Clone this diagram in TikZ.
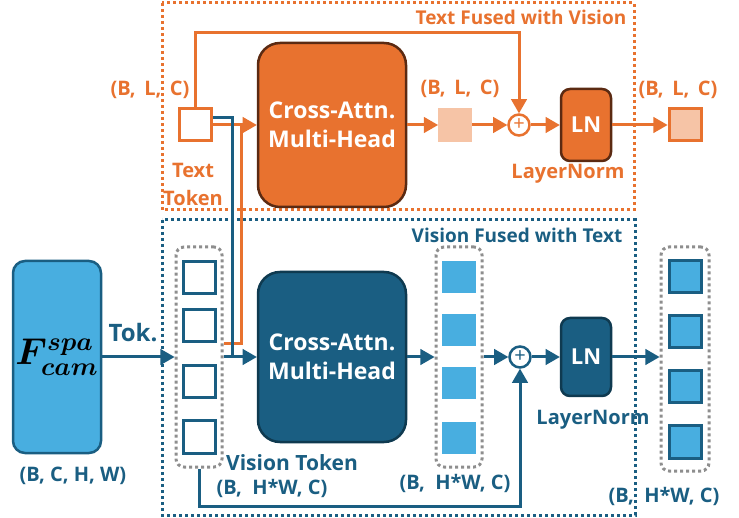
\documentclass[tikz,border=0pt]{standalone}
\usepackage{amsmath}
\usepackage{graphicx}
\usepackage{fontspec}
\setmainfont{Open Sans}
\usetikzlibrary{arrows}

\definecolor{torange}{HTML}{E8722F}
\definecolor{tdark}{HTML}{5B2A12}
\definecolor{tlight}{HTML}{F6C4A6}
\definecolor{vdark}{HTML}{1A5E82}
\definecolor{vdeep}{HTML}{0F3A50}
\definecolor{vlight}{HTML}{48AEE0}
\definecolor{dotgray}{HTML}{8E8E8E}

\begin{document}
\begin{tikzpicture}[x=1pt, y=-1pt, font=\bfseries]
    \tikzstyle{attn} = [rectangle, rounded corners=22pt, line width=2.5pt, minimum width=148pt, align=center, text=white, font=\fontsize{23}{29}\selectfont\bfseries]
    \tikzstyle{lnbox} = [rectangle, rounded corners=9pt, line width=2.5pt, minimum width=50pt, text=white, font=\fontsize{22}{24}\selectfont\bfseries]
    \tikzstyle{tok} = [rectangle, line width=3pt, minimum size=32pt, inner sep=0pt]
    \tikzstyle{col} = [rectangle, rounded corners=8pt, draw=dotgray, line width=3pt, dash pattern=on 3pt off 3pt, minimum width=46pt, minimum height=220pt]
    \tikzstyle{plus} = [circle, line width=2.5pt, fill=white, minimum size=21pt, inner sep=0pt, font=\fontsize{20}{20}\selectfont]
    \tikzstyle{lbl} = [inner sep=0pt, font=\fontsize{20}{24}\selectfont\bfseries]
    \tikzstyle{link} = [->, line width=3pt, >=triangle 60]
    \tikzstyle{frame} = [line width=3pt, dash pattern=on 3pt off 3pt]

    \useasboundingbox (0,0) rectangle (739,518);

    % text branch
    \draw[frame, torange] (162,3) rectangle (634,210);
    \node[lbl, torange, font=\fontsize{19}{22}\selectfont\bfseries] (tfused) at (521,17) {Text Fused with Vision};
    \node[tok, draw=torange, fill=white] (ttok) at (195,125) {};
    \node[lbl, torange, align=center, font=\fontsize{20}{28}\selectfont\bfseries] (ttoklbl) at (193,184) {Text\\Token};
    \node[lbl, torange] (tinlbl) at (150,90) {(B,\, L,\, C)};
    \node[attn, draw=tdark, fill=torange, minimum height=164pt] (tcross) at (332,125) {Cross-Attn.\\Multi-Head};
    \node[tok, fill=tlight, line width=0pt, minimum size=34pt] (tmid) at (455,125) {};
    \node[lbl, torange] (tmidlbl) at (460,89) {(B,\, L,\, C)};
    \node[plus, draw=torange, text=torange] (tplus) at (519,125) {+};
    \node[lnbox, draw=tdark, fill=torange, minimum height=72pt] (tln) at (586,125) {LN};
    \node[lbl, torange] (tlnlbl) at (568,174) {LayerNorm};
    \node[tok, draw=torange, fill=tlight] (tout) at (685,125) {};
    \node[lbl, torange] (toutlbl) at (678,90) {(B,\, L,\, C)};

    % vision branch
    \draw[frame, vdark] (162,220) rectangle (635,515);
    \node[lbl, vdark, font=\fontsize{19}{22}\selectfont\bfseries] (vfused) at (517,235) {Vision Fused with Text};
    \node[rectangle, rounded corners=12pt, draw=vdark, fill=vlight, line width=2.5pt, minimum width=88pt, minimum height=192pt, inner sep=0pt] (fcam) at (57,357) {\scalebox{1.8}{\fontsize{20.74}{24}\selectfont$\boldsymbol{F^{spa}_{cam}}$}};
    \node[lbl, vdark] (fcaminlbl) at (73,476) {(B, C, H, W)};
    \node[lbl, vdark, font=\fontsize{24}{26}\selectfont\bfseries] (toklbl) at (133,333) {Tok.};
    \node[col] (vtokbox) at (199,357) {};
    \foreach \i/\y in {1/278, 2/326, 3/382, 4/437}
        \node[tok, draw=vdark, fill=white] (vtok\i) at (199,\y) {};
    \node[lbl, vdark, font=\fontsize{21}{24}\selectfont\bfseries] (vtoklbl) at (292,463) {Vision Token};
    \node[lbl, vdark] (vinlbl) at (272,488) {(B,~ H*W, C)};
    \node[attn, draw=vdeep, fill=vdark, minimum height=170pt] (vcross) at (332,357) {Cross-Attn.\\Multi-Head};
    \node[col] (vmidbox) at (459,357) {};
    \foreach \i/\y in {1/277, 2/330, 3/383, 4/438}
        \node[tok, fill=vlight, line width=0pt, minimum width=34pt] (vmid\i) at (459,\y) {};
    \node[lbl, vdark] (vmidlbl) at (455,483) {(B,~ H*W, C)};
    \node[plus, draw=vdark, text=vdark] (vplus) at (520,357) {+};
    \node[lnbox, draw=vdeep, fill=vdark, minimum height=78pt] (vln) at (586,357) {LN};
    \node[lbl, vdark] (vlnlbl) at (593,420) {LayerNorm};
    \node[col, minimum width=48pt, minimum height=224pt] (voutbox) at (685,359) {};
    \foreach \i/\y in {1/277, 2/332, 3/387, 4/442}
        \node[tok, draw=vdark, fill=vlight] (vout\i) at (685,\y) {};
    \node[lbl, vdark] (voutlbl) at (664,496) {(B,~ H*W, C)};

    % joins and skips
    \coordinate (tjoin) at (241,125);
    \coordinate (vjoin) at (232,357);
    \coordinate (tskip) at (0,33);
    \coordinate (vskip) at (0,506);

    \foreach \from/\to in {ttok/tcross, tcross/tmid, tmid/tplus, tplus/tln, tln/tout}
        \draw[link, torange] (\from) -- (\to);
    \foreach \from/\to in {fcam/vtokbox, vtokbox/vcross, vcross/vmidbox, vmidbox/vplus, vplus/vln}
        \draw[link, vdark] (\from) -- (\to);
    \draw[link, vdark] (vln) -- (vln -| voutbox.west);

    \draw[link, torange] (ttok.north) |- (tskip -| tplus) -- (tplus.north);
    \draw[link, vdark] (vtokbox.south) |- (vskip -| vplus) -- (vplus.south);
    \draw[line width=3pt, torange] (vtokbox.east |- vtok2.south) -| (tjoin);
    \draw[line width=3pt, vdark] ([yshift=7pt]ttok.east) -| (vjoin);
\end{tikzpicture}
\end{document}
